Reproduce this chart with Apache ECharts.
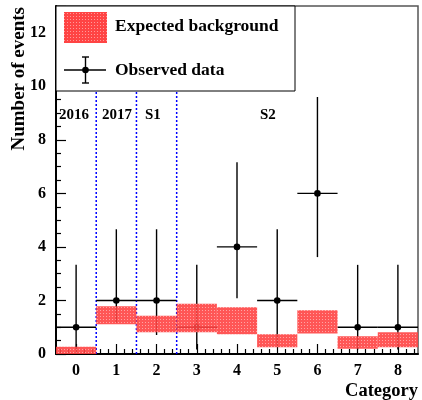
<!DOCTYPE html>
<html><head><meta charset="utf-8">
<script src="https://cdn.jsdelivr.net/npm/echarts@6/dist/echarts.min.js"></script>
<style>html,body{margin:0;padding:0;background:#fff}#c{width:422px;height:400px}</style>
</head><body><div id="c"></div>
<script>
const categories = [0, 1, 2, 3, 4, 5, 6, 7, 8];
const bgLow  = [0.00, 1.11, 0.81, 0.81, 0.74, 0.25, 0.77, 0.20, 0.25];
const bgHigh = [0.27, 1.78, 1.43, 1.88, 1.75, 0.74, 1.63, 0.66, 0.81];
const observed = [1, 2, 2, 1, 4, 2, 6, 1, 1];
const obsLow  = [0.17, 1.17, 0.71, 0.17, 2.08, 0.35, 3.62, 0.17, 0.17];
const obsHigh = [3.33, 4.66, 4.66, 3.33, 7.16, 4.66, 9.60, 3.33, 3.33];
const dividers = [0.5, 1.5, 2.5];
const yTicks = [0, 2, 4, 6, 8, 10, 12];

const FONT = 'Liberation Serif';
const minorX = [];
for (let i = 0; i < categories.length; i++) {
  [-0.4, -0.2, 0.2, 0.4].forEach(d => minorX.push(Math.round((categories[i] + d) * 10) / 10));
}

// red dotted fill pattern
const pc = document.createElement('canvas');
pc.width = 3; pc.height = 3;
const pctx = pc.getContext('2d');
pctx.fillStyle = '#ff4444'; pctx.fillRect(0, 0, 3, 3);
pctx.fillStyle = '#ff9a9a'; pctx.fillRect(1, 1, 1, 1);
const redFill = { image: pc, repeat: 'repeat' };

const chart = echarts.init(document.getElementById('c'), null, { renderer: 'canvas' });

const bandData = categories.map((c, i) => [c, bgLow[i], bgHigh[i]]);
const obsData = categories.map((c, i) => [c, observed[i], obsLow[i], obsHigh[i]]);

chart.setOption({
  animation: false,
  backgroundColor: '#fff',
  grid: { left: 56, right: 4, top: 6, bottom: 46, show: true, borderColor: '#555', borderWidth: 1.5, backgroundColor: 'transparent' },
  xAxis: [{
    type: 'value', min: -0.5, max: 8.5,
    axisLine: { show: true, onZero: false, lineStyle: { color: '#000', width: 2 } },
    axisTick: { show: true, inside: true, length: 10, customValues: categories, lineStyle: { color: '#000', width: 1.2 } },
    axisLabel: { show: true, customValues: categories, margin: 9, color: '#000', fontFamily: FONT, fontWeight: 'bold', fontSize: 16 },
    splitLine: { show: false }
  }, {
    type: 'value', min: -0.5, max: 8.5, position: 'bottom',
    axisLine: { show: false, onZero: false },
    axisTick: { show: true, inside: true, length: 5, customValues: minorX, lineStyle: { color: '#000', width: 1.2 } },
    axisLabel: { show: false },
    splitLine: { show: false }
  }],
  yAxis: {
    type: 'value', min: 0, max: 13, interval: 2,
    axisLine: { show: true, onZero: false, lineStyle: { color: '#000', width: 2 } },
    axisTick: { show: true, inside: true, length: 10, lineStyle: { color: '#000', width: 1.2 } },
    minorTick: { show: true, splitNumber: 4, length: 5, lineStyle: { color: '#000', width: 1.2 } },
    axisLabel: { margin: 10, color: '#000', fontFamily: FONT, fontWeight: 'bold', fontSize: 16,
      formatter: v => (yTicks.indexOf(v) >= 0 ? String(v) : '') },
    splitLine: { show: false }
  },
  series: [{
    type: 'custom', name: 'dividers', z: 1,
    data: dividers.map(d => [d]),
    encode: { x: 0 },
    renderItem: (params, api) => {
      const x = api.value(0);
      const p0 = api.coord([x, 0]);
      const p1 = api.coord([x, 13]);
      return { type: 'line', shape: { x1: p0[0], y1: p0[1], x2: p1[0], y2: p1[1] },
        style: { stroke: '#0000ff', lineWidth: 1.5, lineDash: [2, 2] } };
    }
  }, {
    type: 'custom', name: 'Observed data', z: 2,
    data: obsData,
    encode: { x: 0, y: [1, 2, 3] },
    renderItem: (params, api) => {
      const c = api.value(0), n = api.value(1), lo = api.value(2), hi = api.value(3);
      const pl = api.coord([c - 0.5, n]), pr = api.coord([c + 0.5, n]);
      const pb = api.coord([c, lo]), pt = api.coord([c, hi]);
      const pc2 = api.coord([c, n]);
      const st = { stroke: '#000', lineWidth: 1.4 };
      return { type: 'group', children: [
        { type: 'line', shape: { x1: pl[0], y1: pl[1], x2: pr[0], y2: pr[1] }, style: st },
        { type: 'line', shape: { x1: pb[0], y1: pb[1], x2: pt[0], y2: pt[1] }, style: st },
        { type: 'circle', shape: { cx: pc2[0], cy: pc2[1], r: 3.3 }, style: { fill: '#000' } }
      ] };
    }
  }, {
    type: 'custom', name: 'Expected background', z: 3,
    data: bandData,
    encode: { x: 0, y: [1, 2] },
    renderItem: (params, api) => {
      const c = api.value(0), lo = api.value(1), hi = api.value(2);
      const p0 = api.coord([c - 0.5, hi]);
      const p1 = api.coord([c + 0.5, lo]);
      return { type: 'rect', shape: { x: p0[0], y: p0[1], width: p1[0] - p0[0], height: p1[1] - p0[1] },
        style: { fill: redFill, opacity: 0.9 } };
    }
  }],
  graphic: [
    // legend box
    { type: 'rect', z: 100, shape: { x: 56, y: 6, width: 239, height: 85 }, style: { fill: '#fff', stroke: '#000', lineWidth: 1 } },
    { type: 'rect', z: 101, shape: { x: 64, y: 12, width: 43, height: 31 }, style: { fill: redFill } },
    { type: 'text', z: 101, x: 115, y: 26, style: { text: 'Expected background', fontFamily: FONT, fontWeight: 'bold', fontSize: 17.5, fill: '#000', verticalAlign: 'middle' } },
    { type: 'line', z: 101, shape: { x1: 64, y1: 70, x2: 106, y2: 70 }, style: { stroke: '#000', lineWidth: 1.4 } },
    { type: 'line', z: 101, shape: { x1: 85.5, y1: 57, x2: 85.5, y2: 83 }, style: { stroke: '#000', lineWidth: 1.4 } },
    { type: 'line', z: 101, shape: { x1: 82, y1: 57, x2: 89, y2: 57 }, style: { stroke: '#000', lineWidth: 1.4 } },
    { type: 'line', z: 101, shape: { x1: 82, y1: 83, x2: 89, y2: 83 }, style: { stroke: '#000', lineWidth: 1.4 } },
    { type: 'circle', z: 101, shape: { cx: 85.5, cy: 70, r: 3.3 }, style: { fill: '#000' } },
    { type: 'text', z: 101, x: 115, y: 70, style: { text: 'Observed data', fontFamily: FONT, fontWeight: 'bold', fontSize: 17.5, fill: '#000', verticalAlign: 'middle' } },
    // period labels
    { type: 'text', z: 50, x: 59, y: 115, style: { text: '2016', fontFamily: FONT, fontWeight: 'bold', fontSize: 15, fill: '#000', verticalAlign: 'middle' } },
    { type: 'text', z: 50, x: 102, y: 115, style: { text: '2017', fontFamily: FONT, fontWeight: 'bold', fontSize: 15, fill: '#000', verticalAlign: 'middle' } },
    { type: 'text', z: 50, x: 145, y: 115, style: { text: 'S1', fontFamily: FONT, fontWeight: 'bold', fontSize: 15, fill: '#000', verticalAlign: 'middle' } },
    { type: 'text', z: 50, x: 260, y: 115, style: { text: 'S2', fontFamily: FONT, fontWeight: 'bold', fontSize: 15, fill: '#000', verticalAlign: 'middle' } },
    // axis titles
    { type: 'text', z: 50, x: 418, y: 391, style: { text: 'Category', fontFamily: FONT, fontWeight: 'bold', fontSize: 18.5, fill: '#000', align: 'right', verticalAlign: 'middle' } },
    { type: 'text', z: 50, x: 19, y: 7, rotation: Math.PI / 2, style: { text: 'Number of events', fontFamily: FONT, fontWeight: 'bold', fontSize: 19, fill: '#000', align: 'right', verticalAlign: 'middle' } }
  ]
});
</script></body></html>
